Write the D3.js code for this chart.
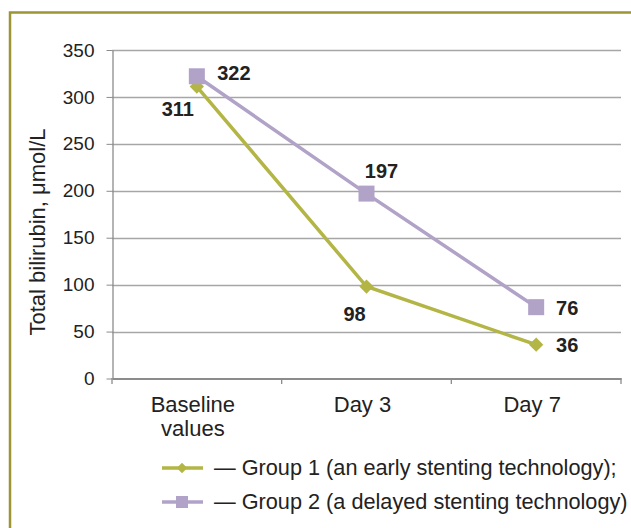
<!DOCTYPE html>
<html><head><meta charset="utf-8">
<script src="https://cdn.jsdelivr.net/npm/d3@7"></script>
<style>body{margin:0;background:#fff}svg{display:block;font-family:"Liberation Sans",Arial,sans-serif}</style>
</head><body><svg id="c" width="631" height="528"></svg>
<script>
const categories = [["Baseline","values"],["Day 3"],["Day 7"]];
const group1 = [311, 98, 36];
const group2 = [322, 197, 76];
const yTicks = [0,50,100,150,200,250,300,350];
const seriesNames = ["— Group 1 (an early stenting technology);","— Group 2 (a delayed stenting technology)"];
const colors = ["#b3b545","#b1a2c8"];

const svg = d3.select("#c");
// frame
svg.append("path").attr("d","M10,528 V12.5 H631").attr("fill","none").attr("stroke","#9c9534").attr("stroke-width",2.5);

const x = d3.scaleBand().domain([0,1,2]).range([112,621]);
const y = d3.scaleLinear().domain([0,350]).range([378.5,50]);

// gridlines
svg.append("g").selectAll("line").data(yTicks.filter(d=>d>0)).join("line")
  .attr("x1",112).attr("x2",621).attr("y1",d=>Math.round(y(d))+0.5).attr("y2",d=>Math.round(y(d))+0.5)
  .attr("stroke","#a6a6a6").attr("stroke-width",1.3);

// y axis
const ya = svg.append("g").attr("transform","translate(112.5,0)")
  .call(d3.axisLeft(y).tickValues(yTicks).tickSize(6).tickPadding(12).tickSizeOuter(0));
ya.select(".domain").attr("stroke","#8c8c8c").attr("stroke-width",1.3);
ya.selectAll(".tick line").attr("stroke","#8c8c8c");
ya.selectAll("text").attr("font-size",19).attr("fill","#222").attr("font-family","'Liberation Sans',Arial,sans-serif");

// x axis
const xa = svg.append("g").attr("transform","translate(0,378.5)")
  .call(d3.axisBottom(x).tickSize(0).tickFormat(""));
xa.select(".domain").attr("stroke","#8c8c8c").attr("stroke-width",1.8);
xa.selectAll(".tick").remove();
svg.append("g").selectAll("line").data([0,1,2,3]).join("line")
  .attr("x1",i=>i<3?x(i):x.range()[1]).attr("x2",i=>i<3?x(i):x.range()[1])
  .attr("y1",378).attr("y2",384).attr("stroke","#8c8c8c").attr("stroke-width",1.3);
const cl = svg.append("g").selectAll("text").data(categories).join("text")
  .attr("x",(d,i)=>x(i)+x.bandwidth()/2 - 4).attr("y",412)
  .attr("text-anchor","middle").attr("font-size",22).attr("fill","#222");
cl.each(function(d){
  d3.select(this).selectAll("tspan").data(d).join("tspan")
    .attr("x",d3.select(this).attr("x")).attr("dy",(t,j)=>j?24:0).text(t=>t);
});

// y title
svg.append("text").attr("transform","translate(45,232) rotate(-90)")
  .attr("text-anchor","middle").attr("font-size",22).attr("fill","#222")
  .text("Total bilirubin, μmol/L");

const cx = i => x(i)+x.bandwidth()/2;
const line = d3.line().x((d,i)=>cx(i)).y(d=>y(d));
svg.append("path").datum(group2).attr("d",line).attr("fill","none").attr("stroke",colors[1]).attr("stroke-width",3.5);
svg.append("path").datum(group1).attr("d",line).attr("fill","none").attr("stroke",colors[0]).attr("stroke-width",3.5);

const diamond = d3.symbol().type(d3.symbolDiamond2).size(130);
svg.append("g").selectAll("path").data(group1).join("path")
  .attr("d",diamond).attr("transform",(d,i)=>`translate(${cx(i)},${y(d)})`).attr("fill",colors[0]);
svg.append("g").selectAll("rect").data(group2).join("rect")
  .attr("x",(d,i)=>cx(i)-8).attr("y",d=>y(d)-8).attr("width",16).attr("height",16).attr("fill",colors[1]);

// data labels (offsets to text centre-x / baseline)
const lab1Off = [[-19,29],[-12,34],[31,7]];
const lab2Off = [[37,3.5],[15,-16],[31,8]];
const lbl = svg.append("g").attr("font-size",20).attr("font-weight","bold").attr("fill","#222").attr("text-anchor","middle");
lbl.selectAll(".l1").data(group1).join("text").attr("class","l1")
  .attr("x",(d,i)=>cx(i)+lab1Off[i][0]).attr("y",(d,i)=>y(d)+lab1Off[i][1]).text(d=>d);
lbl.selectAll(".l2").data(group2).join("text").attr("class","l2")
  .attr("x",(d,i)=>cx(i)+lab2Off[i][0]).attr("y",(d,i)=>y(d)+lab2Off[i][1]).text(d=>d);

// legend
const lg = svg.append("g");
[0,1].forEach(k=>{
  const ly = 468 + k*34;
  lg.append("line").attr("x1",162).attr("x2",203).attr("y1",ly).attr("y2",ly).attr("stroke",colors[k]).attr("stroke-width",3.5);
  if(k===0) lg.append("path").attr("d",d3.symbol().type(d3.symbolDiamond2).size(70)).attr("transform",`translate(182,${ly})`).attr("fill",colors[0]);
  else lg.append("rect").attr("x",176).attr("y",ly-6).attr("width",12).attr("height",12).attr("fill",colors[1]);
  lg.append("text").attr("x",214).attr("y",ly+7).attr("font-size",21.7).attr("fill","#222").text(seriesNames[k]);
});
</script></body></html>
